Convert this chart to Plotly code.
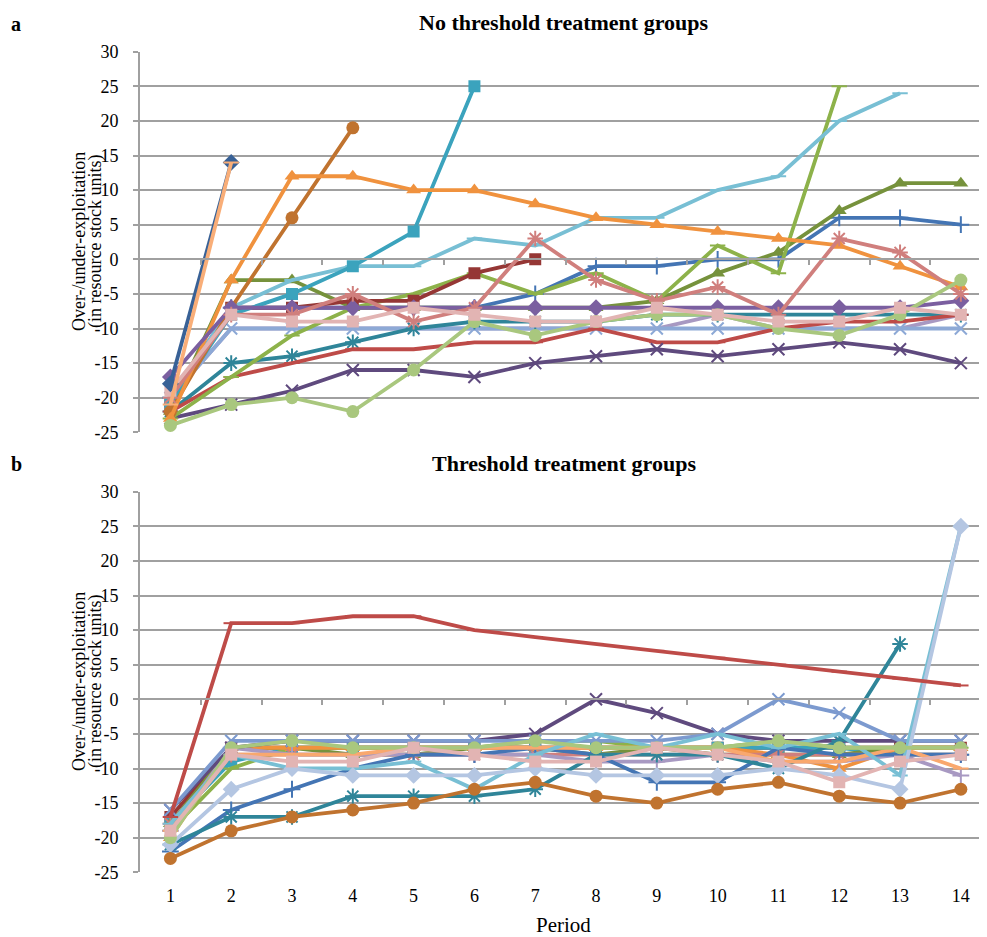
import plotly.graph_objects as go

# ---------------- data ----------------
periods = list(range(1, 15))
y_ticks = list(range(-25, 31, 5))
y_tick_labels = [str(v) for v in y_ticks]
N = None

# Panel a: No threshold treatment groups
a_lavender = [-20, -10, -10, -10, -10, -10, -10, -10, -10, -8, -10, -10, -10, -8]
a_periwinkle_x = [-20, -10, -10, -10, -10, -10, -10, -10, -10, -10, -10, -10, -10, -10]
a_teal_star = [-22, -15, -14, -12, -10, -9, -9, -9, -8, -8, -8, -8, -8, -8]
a_red_dash = [-22, -17, -15, -13, -13, -12, -12, -10, -12, -12, -10, -9, -9, -8]
a_darkpurple_x = [-23, -21, -19, -16, -16, -17, -15, -14, -13, -14, -13, -12, -13, -15]
a_blue_plus = [-20, -7, -7, -7, -7, -7, -5, -1, -1, 0, 0, 6, 6, 5]
a_olive_tri = [-22, -3, -3, -7, -7, -7, -7, -7, -6, -2, 1, 7, 11, 11]
a_green_dash = [-23, -17, -11, -7, -5, -2, -5, -2, -6, 2, -2, 25, N, N]
a_darkred_square = [-21, -7, -7, -6, -6, -2, 0, N, N, N, N, N, N, N]
a_lightblue_dash = [-20, -7, -3, -1, -1, 3, 2, 6, 6, 10, 12, 20, 24, N]
a_teal_square = [-21, -8, -5, -1, 4, 25, N, N, N, N, N, N, N, N]
a_brown_circle = [-22, -7, 6, 19, N, N, N, N, N, N, N, N, N, N]
a_orange_tri = [-23, -3, 12, 12, 10, 10, 8, 6, 5, 4, 3, 2, -1, -4]
a_purple_diamond = [-17, -7, -7, -7, -7, -7, -7, -7, -7, -7, -7, -7, -7, -6]
a_rose_star = [-20, -8, -8, -5, -9, -7, 3, -3, -6, -4, -8, 3, 1, -5]
a_lightgreen_circle = [-24, -21, -20, -22, -16, -9, -11, -9, -8, -8, -10, -11, -8, -3]
a_pink_square = [-19, -8, -9, -9, -7, -8, -9, -9, -7, -8, -9, -9, -7, -8]
a_darkblue_diamond = [-18, 14, N, N, N, N, N, N, N, N, N, N, N, N]
a_peach_dash = [-21, 14, N, N, N, N, N, N, N, N, N, N, N, N]

# Panel b: Threshold treatment groups
b_darkred_square = [-17, -7, -7, -7, -7, -7, -7, -7, -7, -7, -7, -7, -7, -7]
b_aqua_square = [-18, -9, -7, -7, -7, -7, -7, -7, -7, -7, -7, -7, -8, -8]
b_olive_tri = [-18, -7, -7, -8, -8, -7, -7, -8, -7, -8, -8, -8, -7, -7]
b_green_dash = [-19, -10, -7, -7, -7, -7, -6, -6, -7, -7, -6, -7, -7, -7]
b_orange_tri = [-20, -7, -7, -7, -7, -7, -7, -7, -7, -7, -8, -10, -7, -7]
b_rose_star = [-18, -8, -8, -8, -8, -8, -8, -8, -8, -8, -8, -8, -8, -8]
b_lavender_plus = [-19, -7, -8, -8, -8, -8, -8, -9, -9, -8, -9, -9, -8, -11]
b_darkpurple_x = [-16, -7, -6, -6, -6, -6, -5, 0, -2, -5, -6, -6, -6, -6]
b_slate_x = [-16, -6, -6, -6, -6, -6, -6, -6, -6, -5, 0, -2, -6, -6]
b_blue_plus = [-22, -16, -13, -10, -8, -8, -7, -8, -12, -12, -7, -8, -8, -8]
b_teal_star = [-21, -17, -17, -14, -14, -14, -13, -8, -8, -8, -10, -6, 8, N]
b_lightorange_dash = [-19, -8, -8, -8, -7, -7, -7, -7, -7, -7, -9, -9, -7, -10]
b_lightblue_dash = [-18, -8, -10, -10, -9, -13, -8, -5, -7, -5, -7, -5, -11, 25]
b_paleblue_diamond = [-21, -13, -10, -11, -11, -11, -10, -11, -11, -11, -10, -11, -13, 25]
b_lightgreen_circle = [-20, -7, -6, -7, -7, -7, -6, -7, -7, -7, -6, -7, -7, -7]
b_brown_circle = [-23, -19, -17, -16, -15, -13, -12, -14, -15, -13, -12, -14, -15, -13]
b_pink_square = [-19, -8, -9, -9, -7, -8, -9, -9, -7, -8, -9, -12, -9, -8]
b_red_dash = [-17, 11, 11, 12, 12, 10, 9, 8, 7, 6, 5, 4, 3, 2]

# ---------------- styles ----------------
MK = {
    "diamond": dict(symbol="diamond", size=13),
    "square": dict(symbol="square", size=12),
    "tri": dict(symbol="triangle-up", size=13),
    "circle": dict(symbol="circle", size=13),
    "x": dict(symbol="x-thin-open", size=12, open=True),
    "star": dict(symbol="asterisk-open", size=13, open=True),
    "plus": dict(symbol="cross-thin-open", size=12, open=True),
    "dash": dict(symbol="line-ew-open", size=11, open=True),
    "none": dict(symbol="line-ew-open", size=1, open=True),
}

panel_a = [
    (a_lavender, "#A899C2", "none"),
    (a_periwinkle_x, "#8DA9D6", "x"),
    (a_teal_star, "#2F8599", "star"),
    (a_red_dash, "#BE4B48", "dash"),
    (a_darkpurple_x, "#5F4A7E", "x"),
    (a_blue_plus, "#4475B4", "plus"),
    (a_olive_tri, "#76923C", "tri"),
    (a_green_dash, "#8DB24A", "dash"),
    (a_darkred_square, "#953735", "square"),
    (a_lightblue_dash, "#78BFD4", "dash"),
    (a_teal_square, "#3BA3BD", "square"),
    (a_brown_circle, "#C0732F", "circle"),
    (a_orange_tri, "#F0923E", "tri"),
    (a_purple_diamond, "#7B5FA0", "diamond"),
    (a_rose_star, "#D07F7D", "star"),
    (a_lightgreen_circle, "#A9C77E", "circle"),
    (a_pink_square, "#E2B4B3", "square"),
    (a_darkblue_diamond, "#386196", "diamond"),
    (a_peach_dash, "#F9AE78", "dash"),
]

panel_b = [
    (b_darkred_square, "#953735", "square"),
    (b_aqua_square, "#3BA3BD", "square"),
    (b_olive_tri, "#76923C", "tri"),
    (b_green_dash, "#8DB24A", "dash"),
    (b_orange_tri, "#F0923E", "tri"),
    (b_rose_star, "#D07F7D", "star"),
    (b_lavender_plus, "#A899C2", "plus"),
    (b_darkpurple_x, "#5F4A7E", "x"),
    (b_slate_x, "#7C9ACF", "x"),
    (b_blue_plus, "#4475B4", "plus"),
    (b_teal_star, "#2F8599", "star"),
    (b_lightorange_dash, "#F9A86E", "dash"),
    (b_lightblue_dash, "#78BFD4", "dash"),
    (b_paleblue_diamond, "#B4C6E2", "diamond"),
    (b_lightgreen_circle, "#A9C77E", "circle"),
    (b_brown_circle, "#C0732F", "circle"),
    (b_pink_square, "#E2B4B3", "square"),
    (b_red_dash, "#BE4B48", "dash"),
]

FONT = "Liberation Serif, Times New Roman, serif"
GRID = "#A0A0A0"
OFF = 8                      # page body margin of the html page
W, H = 987 - OFF, 937 - OFF  # figure size so it fits the window exactly
L = 140 - OFF                # left edge of plot area (window px 140)

fig = go.Figure()


def add_series(series, xref, yref):
    for vals, color, mk in series:
        m = MK[mk]
        marker = dict(symbol=m["symbol"], size=m["size"], color=color)
        if m.get("open"):
            marker["line"] = dict(color=color, width=2)
        else:
            marker["line"] = dict(width=0)
        fig.add_trace(go.Scatter(
            x=periods, y=vals, mode="lines+markers",
            line=dict(color=color, width=3.8),
            marker=marker, xaxis=xref, yaxis=yref,
            showlegend=False, connectgaps=False, hoverinfo="skip",
        ))


add_series(panel_a, "x", "y")
add_series(panel_b, "x2", "y2")
# helper trace so the zero-line axis of panel b is drawn
fig.add_trace(go.Scatter(x=[periods[0]], y=[None], xaxis="x4", yaxis="y2",
                         showlegend=False, hoverinfo="skip"))


def py(win_px):
    """window pixel (from top) -> paper fraction"""
    return 1 - (win_px - OFF) / H


dom_a = [py(432.3), py(51.7)]
dom_b = [py(872.3), py(491.7)]
yr = [y_ticks[0], y_ticks[-1]]
zero_frac = (0 - yr[0]) / (yr[1] - yr[0])
pos_a = dom_a[0] + zero_frac * (dom_a[1] - dom_a[0])
pos_b = dom_b[0] + zero_frac * (dom_b[1] - dom_b[0])
xr = [0.5, 14.43]
boundaries = [p + 0.5 for p in periods[:-1]]

yaxis_common = dict(
    range=yr, tickvals=y_ticks, ticktext=y_tick_labels,
    showgrid=True, gridcolor=GRID, gridwidth=1.8,
    showline=True, linecolor=GRID, linewidth=1.8,
    ticks="outside", ticklen=5, tickcolor=GRID, tickwidth=1.8,
    ticklabelstandoff=11, automargin=False,
    zeroline=False, tickfont=dict(family=FONT, size=18, color="black"),
    fixedrange=True,
)

fig.update_layout(
    width=W, height=H,
    margin=dict(l=L, r=0, t=0, b=0, autoexpand=False),
    paper_bgcolor="white", plot_bgcolor="white",
    xaxis=dict(domain=[0, 1], range=xr, anchor="free", position=pos_a,
               showgrid=False, zeroline=False, showline=True,
               linecolor=GRID, linewidth=1.8, automargin=False,
               tickvals=boundaries, ticks="outside", ticklen=5,
               tickcolor=GRID, tickwidth=1.8, showticklabels=False),
    yaxis=dict(domain=dom_a, anchor="x", **yaxis_common),
    xaxis2=dict(domain=[0, 1], range=xr, anchor="y2", automargin=False,
                showgrid=False, zeroline=False, showline=False,
                tickvals=periods, ticktext=[str(p) for p in periods],
                ticks="", ticklabelstandoff=11,
                tickfont=dict(family=FONT, size=18, color="black")),
    yaxis2=dict(domain=dom_b, anchor="x2", **yaxis_common),
    xaxis4=dict(range=xr, overlaying="x2", anchor="free", position=pos_b,
                showgrid=False, zeroline=False, showline=True, automargin=False,
                linecolor=GRID, linewidth=1.8,
                tickvals=boundaries, ticks="outside", ticklen=5,
                tickcolor=GRID, tickwidth=1.8, showticklabels=False),
)

pw = W - L


def px(win_px):
    """window pixel (from left) -> paper fraction"""
    return (win_px - OFF - L) / pw


ann = []
ann.append(dict(text="<b>a</b>", x=px(9), y=py(24), xanchor="left", yanchor="middle", size=20))
ann.append(dict(text="<b>b</b>", x=px(9), y=py(464), xanchor="left", yanchor="middle", size=20))
ann.append(dict(text="<b>No threshold treatment groups</b>", x=0.5, y=py(23),
                xanchor="center", yanchor="middle", size=22))
ann.append(dict(text="<b>Threshold treatment groups</b>", x=0.5, y=py(463),
                xanchor="center", yanchor="middle", size=22))
ytitle_lines = ["Over-/under-exploitation", "(in resource stock units)"]
ytitle_x = [79, 96]
for dom in (dom_a, dom_b):
    for txt, xx in zip(ytitle_lines, ytitle_x):
        ann.append(dict(text=txt, x=px(xx), y=(dom[0] + dom[1]) / 2, textangle=-90,
                        xanchor="center", yanchor="middle", size=18))
ann.append(dict(text="Period", x=0.5, y=py(925), xanchor="center", yanchor="middle", size=21))
for a in ann:
    sz = a.pop("size")
    a.update(xref="paper", yref="paper", showarrow=False,
             font=dict(family=FONT, size=sz, color="black"))
fig.update_layout(annotations=ann)

fig.write_html("out.html")
